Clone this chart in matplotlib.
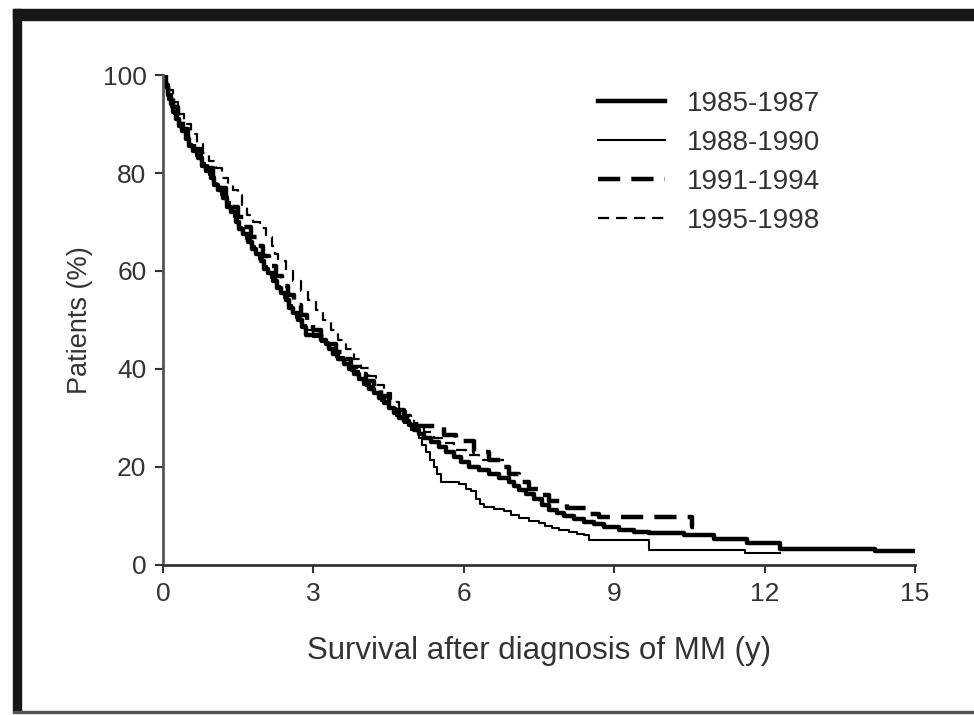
import matplotlib.pyplot as plt
from matplotlib.patches import Rectangle

plt.rcParams['font.family'] = ['Liberation Sans', 'DejaVu Sans']
plt.rcParams['lines.scale_dashes'] = False

# Kaplan-Meier survival: (years, % alive) step points
km_8587 = [(0, 100), (0.03, 98.5), (0.06, 97.5), (0.1, 96), (0.15, 94), (0.2, 92.5), (0.25, 91),
           (0.32, 89.5), (0.38, 88.5), (0.45, 87), (0.52, 85.5), (0.6, 84.5), (0.7, 83), (0.78, 81.5),
           (0.86, 80.5), (0.95, 79), (1.02, 77.5), (1.1, 76.5), (1.2, 75), (1.27, 73), (1.35, 72),
           (1.45, 70), (1.52, 68.5), (1.6, 67.5), (1.7, 66), (1.78, 64.5), (1.86, 63.5), (1.95, 62),
           (2.02, 60.5), (2.1, 59.5), (2.2, 58), (2.28, 56.5), (2.36, 55.5), (2.45, 54), (2.52, 52.5),
           (2.6, 51.5), (2.7, 50), (2.78, 48.5), (2.85, 47), (3.15, 46), (3.25, 45), (3.32, 44),
           (3.4, 43), (3.5, 42), (3.6, 41), (3.7, 40), (3.8, 39), (3.9, 38), (4.0, 37), (4.1, 36),
           (4.2, 35), (4.3, 34), (4.4, 33), (4.5, 32), (4.6, 31), (4.7, 30), (4.8, 29.3), (4.9, 28.5),
           (5.0, 27.5), (5.1, 26.8), (5.2, 26), (5.35, 25), (5.5, 24), (5.65, 23), (5.8, 22),
           (5.95, 21), (6.1, 20), (6.3, 19.3), (6.5, 18.5), (6.7, 17.8), (6.9, 17), (7.0, 16.2),
           (7.1, 15.3), (7.25, 14.4), (7.4, 13.5), (7.55, 12.3), (7.7, 11.2), (7.85, 10.6), (8.0, 10),
           (8.2, 9.4), (8.4, 8.8), (8.6, 8.3), (8.8, 7.8), (9.1, 7.1), (9.4, 6.8), (9.7, 6.5),
           (10.4, 6.1), (11.0, 5.3), (11.65, 4.5), (12.3, 3.3), (14.2, 2.9), (15.0, 2.9)]

km_8890 = [(0, 100), (0.03, 98), (0.07, 96.5), (0.1, 95), (0.15, 93.5), (0.22, 92), (0.3, 90),
           (0.37, 88.5), (0.43, 87.5), (0.5, 86), (0.58, 84.5), (0.66, 83.5), (0.75, 82), (0.83, 80.5),
           (0.91, 79.5), (1.0, 78), (1.08, 76.5), (1.16, 75.5), (1.25, 74), (1.33, 72.5), (1.41, 71),
           (1.5, 69), (1.58, 67.5), (1.66, 66.5), (1.75, 65), (1.83, 63.5), (1.91, 62.5), (2.0, 61),
           (2.08, 59.5), (2.16, 58.5), (2.25, 57), (2.33, 55.5), (2.41, 54.5), (2.5, 53), (2.58, 51.5),
           (2.66, 50.5), (2.75, 49), (2.85, 48), (3.0, 46.5), (3.15, 45.5), (3.3, 44), (3.45, 42.5),
           (3.6, 41), (3.75, 39.5), (3.9, 38), (4.05, 36.5), (4.2, 35), (4.35, 33.5), (4.5, 32),
           (4.65, 30.5), (4.8, 29), (4.95, 27.5), (5.1, 26), (5.17, 24.5), (5.25, 23), (5.32, 21.5),
           (5.4, 20), (5.47, 18.5), (5.55, 17), (5.9, 16.5), (6.05, 15.5), (6.15, 15), (6.25, 13.5),
           (6.32, 12.5), (6.4, 11.8), (6.6, 11.4), (6.8, 11), (6.95, 10.3), (7.1, 9.6), (7.3, 9),
           (7.5, 8.5), (7.62, 8), (7.75, 7.5), (7.9, 7.2), (8.1, 6.8), (8.25, 6.4), (8.4, 6.1),
           (8.5, 5.1), (9.7, 3.1), (11.6, 2.5), (12.3, 2.5)]

km_9194 = [(0, 100), (0.05, 98), (0.1, 96), (0.2, 93.5), (0.3, 91), (0.4, 89), (0.5, 87), (0.62, 85),
           (0.75, 83), (0.87, 81), (1.0, 79), (1.12, 77), (1.25, 75), (1.37, 73), (1.5, 71), (1.62, 69),
           (1.75, 67), (1.87, 65), (2.0, 63), (2.12, 61), (2.25, 59), (2.37, 57), (2.5, 55), (2.62, 53),
           (2.75, 51), (2.87, 49.5), (3.0, 48), (3.15, 46.5), (3.3, 45), (3.45, 43.5), (3.6, 42),
           (3.75, 40.5), (3.9, 39), (4.05, 37.5), (4.2, 36), (4.35, 34.5), (4.5, 33), (4.65, 31.7),
           (4.8, 30.5), (4.93, 29.4), (5.05, 28.3), (5.6, 26.5), (5.85, 25.3), (6.2, 23), (6.5, 21.4),
           (6.75, 20), (6.9, 18.5), (7.1, 17), (7.3, 15.5), (7.5, 14.2), (7.7, 13), (8.05, 11.6),
           (8.45, 10.5), (8.7, 9.8), (10.55, 7.8), (10.6, 7.8)]

km_9598 = [(0, 100), (0.05, 98.5), (0.1, 97), (0.2, 94.5), (0.3, 92), (0.42, 90), (0.55, 88), (0.67, 86),
           (0.8, 84), (0.92, 82.5), (1.05, 81), (1.17, 79), (1.3, 77.5), (1.4, 76.5), (1.5, 75.5),
           (1.58, 73.5), (1.67, 71.4), (1.8, 70), (1.94, 68.8), (2.05, 67), (2.17, 65), (2.23, 63.5),
           (2.3, 62), (2.45, 60), (2.6, 58), (2.75, 56), (2.9, 54), (3.05, 52), (3.2, 50), (3.35, 48),
           (3.5, 46), (3.65, 44), (3.8, 42), (3.95, 40.2), (4.1, 38.5), (4.25, 36.7), (4.4, 35),
           (4.55, 33.2), (4.7, 31.5), (4.85, 30), (5.0, 28.5), (5.2, 27.2), (5.4, 26), (5.6, 24.8),
           (5.8, 23.5), (6.05, 22.4), (6.3, 21.4), (6.8, 21.4)]

labels = ['1985-1987', '1988-1990', '1991-1994', '1995-1998']
x_ticks = [0, 3, 6, 9, 12, 15]
y_ticks = [0, 20, 40, 60, 80, 100]

fig = plt.figure(figsize=(9.74, 7.15), dpi=100)
ax = fig.add_axes([0.1674, 0.2098, 0.772, 0.6853])

styles = [dict(lw=3.2), dict(lw=1.5), dict(lw=3.2, dashes=(16, 8)), dict(lw=1.6, dashes=(8, 5))]
for km, lab, st in zip([km_8587, km_8890, km_9194, km_9598], labels, styles):
    t, s = zip(*km)
    ax.step(t, s, where='post', color='black', label=lab, **st)

ax.set_xlim(0, 15)
ax.set_ylim(0, 100)
ax.set_xticks(x_ticks)
ax.set_yticks(y_ticks)
ax.tick_params(labelsize=19, colors='#333333', length=6, width=1.5, pad=6)
for side in ['top', 'right']:
    ax.spines[side].set_visible(False)
ax.spines['left'].set_color('#555555')
ax.spines['bottom'].set_color('#333333')
ax.spines['left'].set_linewidth(2)
ax.spines['bottom'].set_linewidth(2)

ax.set_xlabel('Survival after diagnosis of MM (y)', fontsize=22.5, color='#333333', labelpad=22)
ax.set_ylabel('Patients (%)', fontsize=19.5, color='#333333', labelpad=7)

ax.legend(loc='upper left', bbox_to_anchor=(0.545, 1.018), frameon=False, fontsize=20,
          handlelength=2.4, handletextpad=0.8, labelspacing=0.46, labelcolor='#333333')

# black frame around the figure (cut off on the right)
fig.patches.append(Rectangle((13 / 974, 1 - 20 / 715), 1, 11 / 715, transform=fig.transFigure,
                             color='#161616', zorder=10))
fig.patches.append(Rectangle((13 / 974, 3 / 715), 8 / 974, 1 - 12 / 715, transform=fig.transFigure,
                             color='#161616', zorder=10))
fig.patches.append(Rectangle((13 / 974, 2 / 715), 1, 2 / 715, transform=fig.transFigure,
                             color='#555555', zorder=10))

fig.savefig('out.png', dpi=100)
